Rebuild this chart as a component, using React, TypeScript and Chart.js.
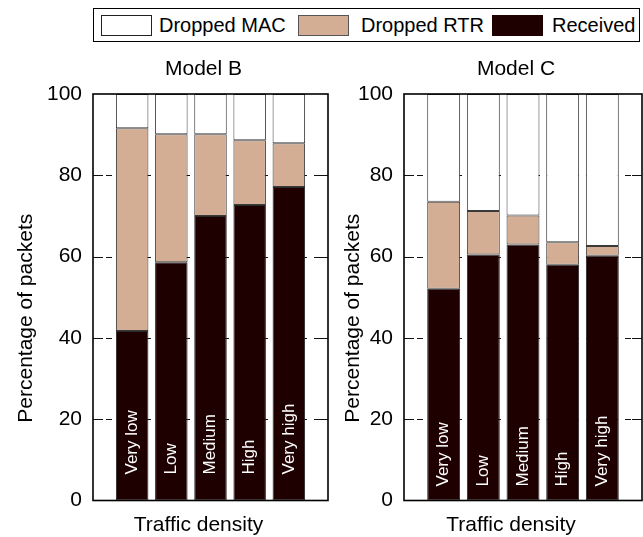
import React, { useEffect, useRef } from "react";
import { Chart, registerables } from "chart.js";

Chart.register(...registerables);

// Traffic density categories (x axis) and y tick values
const densityLabels = ["Very low", "Low", "Medium", "High", "Very high"];
const yTickValues = [0, 20, 40, 60, 80, 100];

// Model B: percentage of packets per outcome
const receivedB = [41.7, 58.6, 70.0, 72.7, 77.1];
const droppedRtrB = [49.9, 31.5, 20.1, 15.9, 10.8];
const droppedMacB = [8.4, 9.9, 9.9, 11.4, 12.1];

// Model C: percentage of packets per outcome
const receivedC = [52.1, 60.5, 63.0, 58.0, 60.2];
const droppedRtrC = [21.4, 10.7, 7.1, 5.5, 2.4];
const droppedMacC = [26.5, 28.8, 29.9, 36.5, 37.4];

const COLORS = { mac: "#ffffff", rtr: "#d3ad94", received: "#1f0000" };
const FONT = '"Liberation Sans", Arial, Helvetica, sans-serif';

type PanelProps = {
  title: string;
  received: number[];
  rtr: number[];
  mac: number[];
  left: number;
  width: number;
  yWidth: number;
  padRight: number;
  labelInset: number;
  yTitleX: number;
};

const PAGE_H = 537;
const AREA_TOP = 94;
const AREA_BOTTOM = 500.5;

function makeDecor(p: PanelProps) {
  return {
    id: "panelDecor",
    beforeDatasetsDraw(chart: any) {
      const { ctx, chartArea: a, scales } = chart;
      const y = scales.y;
      ctx.save();
      ctx.strokeStyle = "#111";
      ctx.lineWidth = 1;
      for (const v of yTickValues) {
        if (v === 0 || v === 100) continue;
        const py = Math.round(y.getPixelForValue(v)) + 0.5;
        ctx.setLineDash([6, 7]);
        ctx.beginPath();
        ctx.moveTo(a.left, py);
        ctx.lineTo(a.right, py);
        ctx.stroke();
        ctx.setLineDash([]);
        ctx.beginPath();
        ctx.moveTo(a.left, py);
        ctx.lineTo(a.left + 10, py);
        ctx.moveTo(a.right - 10, py);
        ctx.lineTo(a.right, py);
        ctx.stroke();
      }
      ctx.restore();
    },
    afterDatasetsDraw(chart: any) {
      const { ctx, chartArea: a } = chart;
      const meta = chart.getDatasetMeta(0);
      const labels = chart.data.labels as string[];
      ctx.save();
      ctx.fillStyle = "#ffffff";
      ctx.font = `17px ${FONT}`;
      ctx.textAlign = "left";
      ctx.textBaseline = "middle";
      meta.data.forEach((el: any, i: number) => {
        const text = labels[i];
        if (!text) return;
        ctx.save();
        ctx.translate(el.x, a.bottom - p.labelInset);
        ctx.rotate(-Math.PI / 2);
        ctx.fillText(text, 0, 0);
        ctx.restore();
      });
      // plot frame
      ctx.strokeStyle = "#000";
      ctx.lineWidth = 1.6;
      ctx.strokeRect(a.left, a.top, a.right - a.left, a.bottom - a.top);
      ctx.restore();
    },
    afterDraw(chart: any) {
      const { ctx, chartArea: a } = chart;
      const cx = (a.left + a.right) / 2;
      const cy = (a.top + a.bottom) / 2;
      ctx.save();
      ctx.fillStyle = "#000";
      ctx.font = `21px ${FONT}`;
      ctx.textAlign = "center";
      ctx.textBaseline = "middle";
      ctx.fillText(p.title, cx - 7, 69);
      ctx.fillText("Traffic density", cx - 12, 525);
      ctx.save();
      ctx.translate(p.yTitleX, cy + 21);
      ctx.rotate(-Math.PI / 2);
      ctx.fillText("Percentage of packets", 0, 0);
      ctx.restore();
      ctx.restore();
    },
  };
}

function Panel(p: PanelProps) {
  const ref = useRef<HTMLCanvasElement>(null);
  useEffect(() => {
    if (!ref.current) return;
    const pad = (arr: number[]) => [null, ...arr, null];
    const seg = {
      borderWidth: 1,
      borderSkipped: false as const,
      categoryPercentage: 0.83,
      barPercentage: 1,
    };
    const chart = new Chart(ref.current, {
      type: "bar",
      data: {
        labels: ["", ...densityLabels, ""],
        datasets: [
          {
            label: "Received",
            data: pad(p.received) as any,
            backgroundColor: COLORS.received,
            borderColor: "#2a2a2a",
            ...seg,
          },
          {
            label: "Dropped RTR",
            data: pad(p.rtr) as any,
            backgroundColor: COLORS.rtr,
            borderColor: "#3a3a3a",
            ...seg,
          },
          {
            label: "Dropped MAC",
            data: pad(p.mac) as any,
            backgroundColor: COLORS.mac,
            borderColor: "#3a3a3a",
            ...seg,
          },
        ],
      },
      options: {
        animation: false,
        responsive: false,
        devicePixelRatio: 1,
        layout: {
          padding: { top: AREA_TOP, bottom: PAGE_H - AREA_BOTTOM, left: 0, right: p.padRight },
        },
        plugins: {
          legend: { display: false },
          title: { display: false },
          tooltip: { enabled: false },
        },
        scales: {
          x: {
            type: "category",
            stacked: true,
            offset: false,
            display: false,
            grid: { display: false },
          },
          y: {
            stacked: true,
            min: 0,
            max: 100,
            grid: { display: false, drawTicks: false },
            border: { display: false },
            ticks: {
              stepSize: 20,
              padding: 11,
              color: "#000",
              font: { family: FONT, size: 21 },
            },
            afterFit(scale: any) {
              scale.width = p.yWidth;
            },
          },
        },
      },
      plugins: [makeDecor(p)],
    });
    return () => chart.destroy();
  }, []);
  return (
    <canvas
      ref={ref}
      width={p.width}
      height={PAGE_H}
      style={{ position: "absolute", left: p.left, top: 0, width: p.width, height: PAGE_H }}
    />
  );
}

const legendItems = [
  { label: "Dropped MAC", color: COLORS.mac, border: "#222", swatchX: 101, textX: 159 },
  { label: "Dropped RTR", color: COLORS.rtr, border: "#555", swatchX: 298, textX: 361 },
  { label: "Received", color: COLORS.received, border: "#1f0000", swatchX: 492, textX: 552 },
];

export default function App() {
  return (
    <div
      style={{
        position: "fixed",
        left: 0,
        top: 0,
        width: 643,
        height: PAGE_H,
        background: "#fff",
        fontFamily: FONT,
      }}
    >
      <Panel
        title="Model B"
        received={receivedB}
        rtr={droppedRtrB}
        mac={droppedMacB}
        left={0}
        width={335}
        yWidth={93}
        padRight={7}
        labelInset={26}
        yTitleX={26}
      />
      <Panel
        title="Model C"
        received={receivedC}
        rtr={droppedRtrC}
        mac={droppedMacC}
        left={335}
        width={308}
        yWidth={69}
        padRight={1}
        labelInset={14}
        yTitleX={18}
      />
      <div
        style={{
          position: "absolute",
          left: 93,
          top: 8,
          width: 547,
          height: 34,
          border: "1.6px solid #000",
          boxSizing: "border-box",
          background: "#fff",
        }}
      />
      {legendItems.map((it) => (
        <React.Fragment key={it.label}>
          <div
            style={{
              position: "absolute",
              left: it.swatchX,
              top: 15,
              width: 51,
              height: 21,
              background: it.color,
              border: `1px solid ${it.border}`,
              boxSizing: "border-box",
            }}
          />
          <div
            style={{
              position: "absolute",
              left: it.textX,
              top: 14,
              fontSize: 20,
              lineHeight: "23px",
              color: "#000",
              whiteSpace: "nowrap",
            }}
          >
            {it.label}
          </div>
        </React.Fragment>
      ))}
    </div>
  );
}
